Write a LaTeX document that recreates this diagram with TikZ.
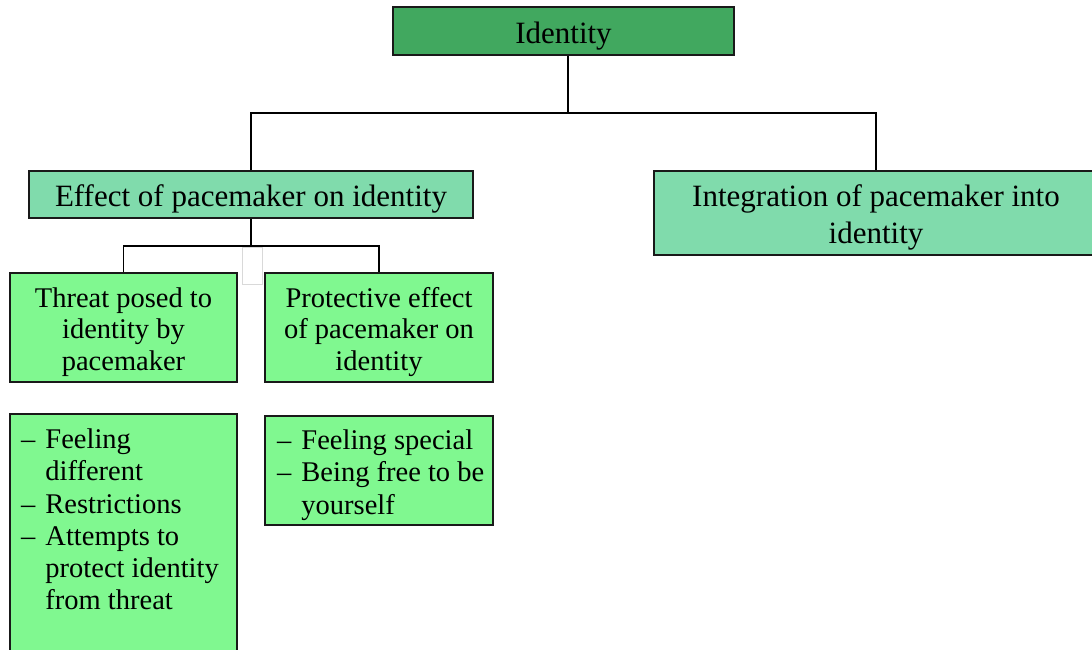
\documentclass[tikz,border=0pt]{standalone}
\usepackage{fontspec}
\setmainfont{Liberation Serif}
\definecolor{idgreen}{RGB}{65,168,95}
\definecolor{midgreen}{RGB}{128,219,172}
\definecolor{lightgreen}{RGB}{128,248,144}
\definecolor{edge}{RGB}{25,25,25}
\newcommand{\dn}[1]{\raisebox{0pt}[\dimexpr\height+10pt\relax]{\begin{tabular}{@{}c@{}}#1\end{tabular}}}
\begin{document}
\begin{tikzpicture}[x=1pt,y=-1pt,
  box/.style={draw=edge, line width=1.6pt, rectangle, inner sep=0pt, align=center, text=black},
  big/.style={font=\fontsize{31}{37}\selectfont},
  small/.style={font=\fontsize{28.5}{31.5}\selectfont},
  listfont/.style={font=\fontsize{28.5}{32.2}\selectfont},
  conn/.style={draw=black, line width=1.6pt}
]
\clip (0,0) rectangle (1092,650);
\fill[white] (0,0) rectangle (1092,650);

\node[box, big, fill=idgreen, minimum width=341pt, minimum height=48pt] (id) at (563.5,31) {\dn{Identity}};
\node[box, big, fill=midgreen, minimum width=444pt, minimum height=47pt] (eff) at (251,194.5) {\dn{Effect of pacemaker on identity}};
\node[box, big, fill=midgreen, minimum width=444pt, minimum height=84pt] (integ) at (876,213) {\dn{Integration of pacemaker into\\identity}};
\node[box, small, fill=lightgreen, minimum width=227pt, minimum height=109pt] (threat) at (123.5,327.5) {\dn{Threat posed to\\identity by\\pacemaker}};
\node[box, small, fill=lightgreen, minimum width=228pt, minimum height=109pt] (prot) at (379,327.5) {\dn{Protective effect\\of pacemaker on\\identity}};
\node[draw=gray!30, line width=0.8pt, minimum width=20pt, minimum height=37pt, inner sep=0pt] (ghost) at (252,265.5) {};

\node[box, fill=lightgreen, minimum width=227pt, minimum height=260pt] (list1) at (123.5,544) {};
\node[box, fill=lightgreen, minimum width=228pt, minimum height=109pt] (list2) at (379,470.5) {};

\node[listfont, anchor=north west, inner sep=0pt, align=left] (list1t) at (21,426)
  {\begin{tabular}{@{}l@{\hspace{10pt}}l@{}}
   -- & Feeling\\
      & different\\
   -- & Restrictions\\
   -- & Attempts to\\
      & protect identity\\
      & from threat
   \end{tabular}};
\node[listfont, anchor=north west, inner sep=0pt, align=left] (list2t) at (277,427)
  {\begin{tabular}{@{}l@{\hspace{10pt}}l@{}}
   -- & Feeling special\\
   -- & Being free to be\\
      & yourself
   \end{tabular}};

\coordinate (b1) at (568,113);
\coordinate (b2) at (251,246);
\draw[conn] ([xshift=4.5pt]id.south) -- (b1);
\draw[conn] (eff.north) |- (b1) -| (integ.north);
\draw[conn] (eff.south) -- (b2);
\draw[conn] (threat.north) |- (b2) -| (prot.north);
\end{tikzpicture}
\end{document}
